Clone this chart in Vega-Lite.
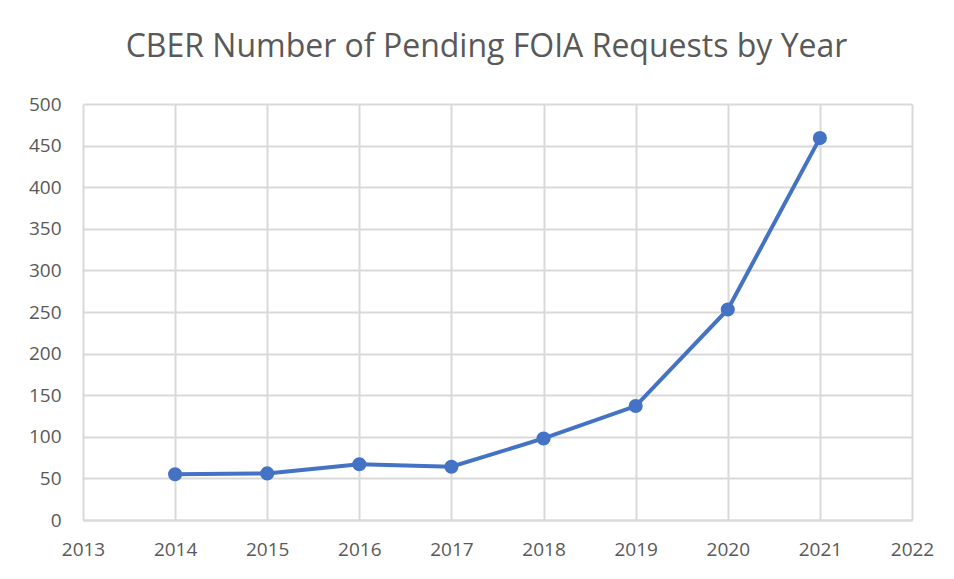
{
  "$schema": "https://vega.github.io/schema/vega-lite/v6.json",
  "width": 829,
  "height": 416,
  "autosize": {"type": "none"},
  "padding": {"left": 83, "top": 104, "right": 42, "bottom": 59},
  "background": "white",
  "config": {
    "view": {"stroke": null},
    "font": "Open Sans"
  },
  "title": {
    "text": "CBER Number of Pending FOIA Requests by Year",
    "fontSize": 32,
    "fontWeight": "normal",
    "color": "#595959",
    "font": "Open Sans",
    "anchor": "middle",
    "offset": 31,
    "dx": -11
  },
  "data": {
    "values": [
      {"year": 2014, "requests": 55},
      {"year": 2015, "requests": 56},
      {"year": 2016, "requests": 67},
      {"year": 2017, "requests": 64},
      {"year": 2018, "requests": 98},
      {"year": 2019, "requests": 137},
      {"year": 2020, "requests": 253},
      {"year": 2021, "requests": 459}
    ]
  },
  "encoding": {
    "x": {
      "field": "year",
      "type": "quantitative",
      "scale": {"domain": [2013, 2022], "nice": false, "zero": false},
      "axis": {
        "title": null,
        "values": [2013, 2014, 2015, 2016, 2017, 2018, 2019, 2020, 2021, 2022],
        "format": "d",
        "labelFontSize": 19,
        "labelColor": "#595959",
        "labelPadding": 20,
        "ticks": false,
        "domainColor": "#d9d9d9",
        "domainWidth": 2,
        "gridColor": "#d9d9d9",
        "gridWidth": 2,
        "labelFlush": false
      }
    },
    "y": {
      "field": "requests",
      "type": "quantitative",
      "scale": {"domain": [0, 500], "nice": false},
      "axis": {
        "title": null,
        "values": [0, 50, 100, 150, 200, 250, 300, 350, 400, 450, 500],
        "labelFontSize": 19,
        "labelColor": "#595959",
        "labelPadding": 22,
        "ticks": false,
        "domain": false,
        "gridColor": "#d9d9d9",
        "gridWidth": 2
      }
    }
  },
  "layer": [
    {"mark": {"type": "line", "color": "#4472C4", "strokeWidth": 4}},
    {"mark": {"type": "point", "filled": true, "color": "#4472C4", "opacity": 1, "size": 200}}
  ]
}
